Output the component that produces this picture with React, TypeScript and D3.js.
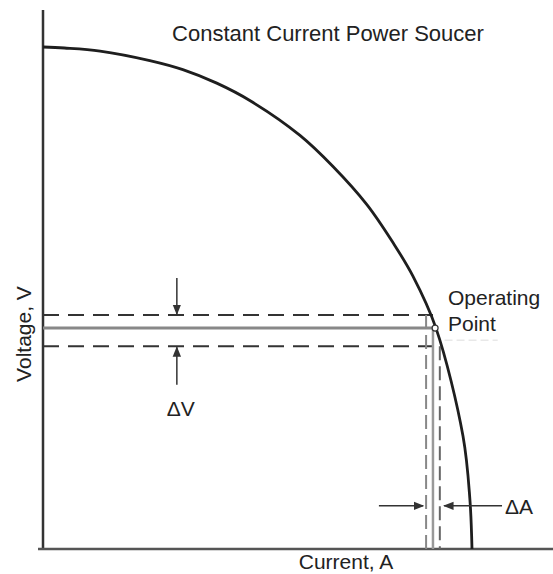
import * as d3 from "d3";

// source curve: current (% of short-circuit) vs voltage (% of open-circuit)
const current = [0, 5, 13.3, 24.9, 32.6, 40.5, 48.3, 59.9, 67.6, 75.5, 81.6, 86.2, 91.6, 97.9, 99.5, 100];
const voltage = [100, 99.8, 99.2, 97.3, 95.5, 92.8, 89.3, 82.4, 76.2, 68.6, 61.0, 54.4, 44.0, 22.5, 10.0, 0];

const opCurrent = 91.4;
const opVoltage = 44.0;
const vHigh = 46.6;
const vLow = 40.4;
const aLow = 89.3;
const aMid = 90.9;
const aHigh = 92.5;

const dvArrowX = 31.2;
const dvDown = [54.0, 46.8];
const dvUp = [32.7, 40.2];
const daArrowY = 8.6;
const daLeft = [78.3, 88.6];
const daRight = [107, 93.5];

const title = "Constant Current Power Soucer";
const xLabel = "Current, A";
const yLabel = "Voltage, V";

export default function App() {
  const width = 553;
  const height = 574;
  const x = d3.scaleLinear([0, 100], [43, 472]);
  const y = d3.scaleLinear([0, 100], [549, 47]);
  const pts = current.map((c, i) => [c, voltage[i]] as [number, number]);
  const line = d3.line<[number, number]>((d) => x(d[0]), (d) => y(d[1])).curve(d3.curveCatmullRom.alpha(0.5));
  const font = "Liberation Sans, Arial, sans-serif";

  return (
    <svg width={width} height={height} style={{ position: "absolute", left: 0, top: 0, background: "#fff" }}>
      <defs>
        <marker id="ah" viewBox="0 0 10 10" refX="9" refY="5" markerWidth="7" markerHeight="7" orient="auto">
          <path d="M0,1 L10,5 L0,9 z" fill="#333" />
        </marker>
      </defs>
      {/* axes */}
      <line x1={x(0)} x2={x(0)} y1={10} y2={y(0)} stroke="#333" strokeWidth={2.5} />
      <line x1={38} x2={width} y1={y(0)} y2={y(0)} stroke="#555" strokeWidth={2.5} />

      {/* horizontal voltage lines */}
      <line x1={x(0)} x2={x(aMid)} y1={y(vHigh)} y2={y(vHigh)} stroke="#333" strokeWidth={2} strokeDasharray="16,9" />
      <line x1={x(0)} x2={x(opCurrent)} y1={y(opVoltage)} y2={y(opVoltage)} stroke="#888" strokeWidth={3} />
      <line x1={x(0)} x2={x(aHigh)} y1={y(vLow)} y2={y(vLow)} stroke="#333" strokeWidth={2} strokeDasharray="16,9" />
      <line x1={x(93.6)} x2={x(106)} y1={y(41.6)} y2={y(41.6)} stroke="#ddd" strokeWidth={1} strokeDasharray="8,4" />

      {/* vertical current lines */}
      <line x1={x(aLow)} x2={x(aLow)} y1={y(vHigh)} y2={y(0)} stroke="#888" strokeWidth={2} strokeDasharray="14,6" />
      <line x1={x(aMid)} x2={x(aMid)} y1={y(opVoltage)} y2={y(0)} stroke="#999" strokeWidth={2.5} />
      <line x1={x(aHigh)} x2={x(aHigh)} y1={y(vLow)} y2={y(0)} stroke="#666" strokeWidth={2} strokeDasharray="14,6" />

      {/* source curve */}
      <path d={line(pts) || ""} fill="none" stroke="#1e1e1e" strokeWidth={2.8} />
      <circle cx={x(opCurrent)} cy={y(opVoltage)} r={3} fill="#fff" stroke="#333" strokeWidth={1.2} />

      {/* delta V arrows */}
      <line x1={x(dvArrowX)} x2={x(dvArrowX)} y1={y(dvDown[0])} y2={y(dvDown[1])} stroke="#333" strokeWidth={1.5} markerEnd="url(#ah)" />
      <line x1={x(dvArrowX)} x2={x(dvArrowX)} y1={y(dvUp[0])} y2={y(dvUp[1])} stroke="#333" strokeWidth={1.5} markerEnd="url(#ah)" />
      {/* delta A arrows */}
      <line x1={x(daLeft[0])} x2={x(daLeft[1])} y1={y(daArrowY)} y2={y(daArrowY)} stroke="#333" strokeWidth={1.5} markerEnd="url(#ah)" />
      <line x1={x(daRight[0])} x2={x(daRight[1])} y1={y(daArrowY)} y2={y(daArrowY)} stroke="#333" strokeWidth={1.5} markerEnd="url(#ah)" />

      <g fontFamily={font} fill="#222" fontSize={21}>
        <text x={328} y={41} textAnchor="middle" fontSize={22}>{title}</text>
        <text x={448} y={305}>Operating</text>
        <text x={448} y={331}>Point</text>
        <text x={x(dvArrowX) + 4} y={416} textAnchor="middle">ΔV</text>
        <text x={505} y={y(daArrowY) + 8}>ΔA</text>
        <text x={346} y={569} textAnchor="middle">{xLabel}</text>
        <text transform={`translate(31,334) rotate(-90)`} textAnchor="middle">{yLabel}</text>
      </g>
    </svg>
  );
}
